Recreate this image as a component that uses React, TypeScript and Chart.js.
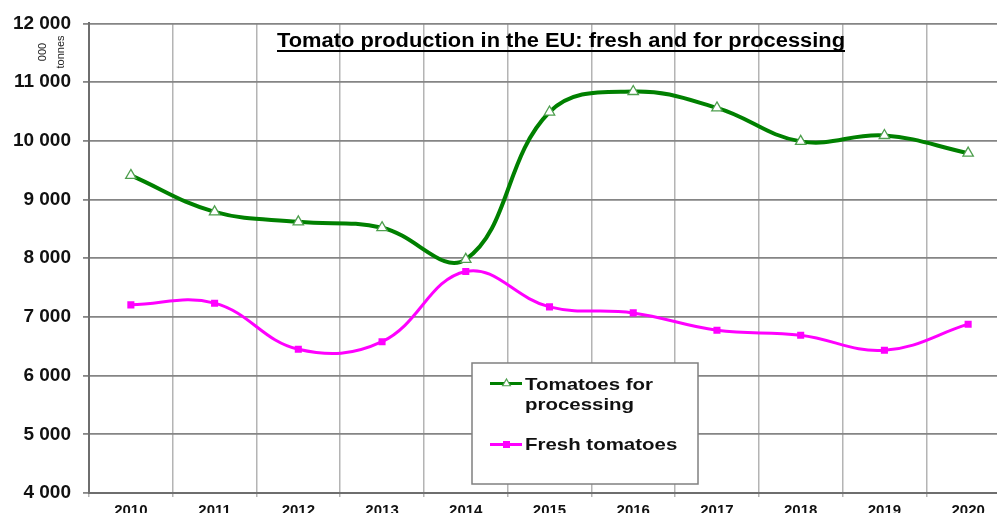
import React, { useEffect, useRef } from 'react';
import { Chart, registerables } from 'chart.js';

Chart.register(...registerables);

// ---- data ----
const years = ['2010', '2011', '2012', '2013', '2014', '2015', '2016', '2017', '2018', '2019', '2020'];
const processing = [9410, 8790, 8620, 8520, 7980, 10490, 10840, 10560, 9990, 10090, 9790];
const fresh = [7205, 7234, 6448, 6578, 7774, 7171, 7068, 6773, 6688, 6431, 6876];
const seriesLabels = ['Tomatoes for processing', 'Fresh tomatoes'];
const legendLines = [['Tomatoes for', 'processing'], ['Fresh tomatoes']];
const titleText = 'Tomato production in the EU: fresh and for processing';
const unitLines = ['000', 'tonnes'];
const yMin = 4000;
const yMax = 12000;
const yStep = 1000;

const GREEN = '#008000';
const GREEN_MARK = '#4f9f4f';
const MAGENTA = '#ff00ff';
const FONT = '"Liberation Sans", Arial, Helvetica, sans-serif';

const fmt = (v: number) => String(v).replace(/\B(?=(\d{3})+(?!\d))/g, ' ');

const overlayPlugin = {
  id: 'overlay',
  afterDraw(chart: any) {
    const ctx = chart.ctx as CanvasRenderingContext2D;
    ctx.save();

    // Title (bold, underlined)
    ctx.font = `bold 20px ${FONT}`;
    ctx.fillStyle = '#000';
    ctx.textBaseline = 'alphabetic';
    ctx.textAlign = 'left';
    const tw = ctx.measureText(titleText).width;
    const tLeft = 277;
    const tWidth = 568;
    ctx.save();
    ctx.translate(tLeft, 46.5);
    ctx.scale(tWidth / tw, 1);
    ctx.fillText(titleText, 0, 0);
    ctx.restore();
    ctx.fillRect(tLeft, 50, tWidth, 2);

    // Unit label rotated
    ctx.save();
    ctx.fillStyle = '#222';
    ctx.font = `11px ${FONT}`;
    ctx.textAlign = 'center';
    ctx.textBaseline = 'middle';
    ctx.translate(0, 52);
    ctx.rotate(-Math.PI / 2);
    ctx.fillText(unitLines[0], 0, 43);
    ctx.fillText(unitLines[1], 0, 60.5);
    ctx.restore();

    // Legend box
    const bx = 472, by = 363, bw = 226, bh = 121;
    ctx.fillStyle = '#fff';
    ctx.fillRect(bx, by, bw, bh);
    ctx.strokeStyle = '#808080';
    ctx.lineWidth = 1.5;
    ctx.strokeRect(bx, by, bw, bh);

    // legend entry 1
    ctx.strokeStyle = GREEN;
    ctx.lineWidth = 3;
    ctx.beginPath();
    ctx.moveTo(490, 383.5);
    ctx.lineTo(522, 383.5);
    ctx.stroke();
    // triangle marker
    ctx.beginPath();
    const tr = 4.5;
    ctx.moveTo(506.5, 383.5 - tr);
    ctx.lineTo(506.5 + tr * 0.866, 383.5 + tr * 0.5);
    ctx.lineTo(506.5 - tr * 0.866, 383.5 + tr * 0.5);
    ctx.closePath();
    ctx.fillStyle = '#fff';
    ctx.fill();
    ctx.strokeStyle = GREEN_MARK;
    ctx.lineWidth = 1.2;
    ctx.stroke();

    // legend entry 2
    ctx.strokeStyle = MAGENTA;
    ctx.lineWidth = 3;
    ctx.beginPath();
    ctx.moveTo(490, 444.5);
    ctx.lineTo(522, 444.5);
    ctx.stroke();
    ctx.fillStyle = MAGENTA;
    ctx.fillRect(503, 441, 7, 7);

    // legend texts
    ctx.font = `bold 17px ${FONT}`;
    ctx.fillStyle = '#111';
    ctx.textAlign = 'left';
    ctx.textBaseline = 'alphabetic';
    const lw = ctx.measureText(legendLines[0][0]).width;
    const lsx = 128 / lw;
    const drawL = (s: string, x: number, y: number) => {
      ctx.save();
      ctx.translate(x, y);
      ctx.scale(lsx, 1);
      ctx.fillText(s, 0, 0);
      ctx.restore();
    };
    drawL(legendLines[0][0], 525, 389.5);
    drawL(legendLines[0][1], 525, 410);
    drawL(legendLines[1][0], 525, 450);

    ctx.restore();
  },
};

export default function App() {
  const ref = useRef<HTMLCanvasElement | null>(null);

  useEffect(() => {
    if (!ref.current) return;
    const chart = new Chart(ref.current, {
      type: 'line',
      data: {
        labels: years,
        datasets: [
          {
            label: seriesLabels[1],
            data: fresh,
            borderColor: MAGENTA,
            backgroundColor: MAGENTA,
            borderWidth: 3,
            tension: 0.4,
            pointStyle: 'rect',
            pointRadius: 5,
            pointBorderWidth: 0,
            pointBackgroundColor: MAGENTA,
            pointBorderColor: MAGENTA,
          },
          {
            label: seriesLabels[0],
            data: processing,
            borderColor: GREEN,
            backgroundColor: GREEN,
            borderWidth: 4,
            tension: 0.4,
            pointStyle: 'triangle',
            pointRadius: 6,
            pointBorderWidth: 1.3,
            pointBackgroundColor: '#ffffff',
            pointBorderColor: GREEN_MARK,
          },
        ],
      },
      options: {
        responsive: false,
        animation: false,
        devicePixelRatio: 1,
        layout: { padding: { top: 23, right: 30, bottom: 0, left: 0 } },
        plugins: {
          legend: { display: false },
          title: { display: false },
          tooltip: { enabled: false },
        },
        scales: {
          x: {
            type: 'category',
            offset: true,
            grid: {
              offset: true,
              color: '#b4b4b4',
              lineWidth: 1.5,
              tickLength: 4,
              drawTicks: true,
            },
            border: { color: '#6e6e6e', width: 2 },
            ticks: {
              color: '#111',
              font: { family: FONT, size: 15, weight: 'bold' },
              padding: 5,
              maxRotation: 0,
              autoSkip: false,
            },
            afterFit: (s: any) => {
              s.height = 37;
            },
          },
          y: {
            type: 'linear',
            min: yMin,
            max: yMax,
            ticks: {
              stepSize: yStep,
              color: '#111',
              font: { family: FONT, size: 19, weight: 'bold' },
              padding: 12,
              callback: (v: any) => fmt(Number(v)),
            },
            grid: {
              color: '#858585',
              lineWidth: 1.8,
              tickLength: 6,
            },
            border: { color: '#6e6e6e', width: 2 },
            afterFit: (s: any) => {
              s.width = 89;
            },
          },
        },
      },
      plugins: [overlayPlugin],
    } as any);
    return () => chart.destroy();
  }, []);

  return (
    <div
      style={{
        position: 'absolute',
        left: 0,
        top: 0,
        width: 997,
        height: 513,
        overflow: 'hidden',
        background: '#fff',
      }}
    >
      <canvas ref={ref} width={1040} height={530} style={{ display: 'block', width: 1040, height: 530 }} />
    </div>
  );
}
